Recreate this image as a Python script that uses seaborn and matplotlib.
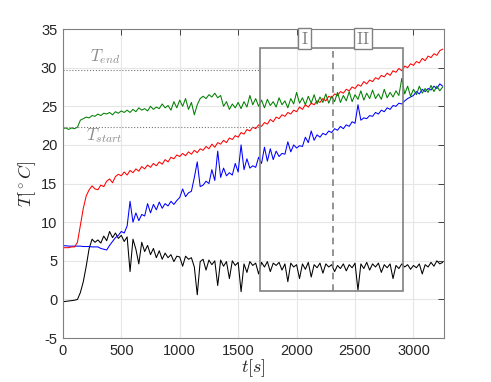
import numpy as np
import matplotlib
matplotlib.use("Agg")
import matplotlib.pyplot as plt
import seaborn as sns
from matplotlib.patches import Rectangle

red = [6.7, 6.7, 6.7, 6.8, 6.8, 7.4, 9.6, 11.8, 13.4, 14.2,
       14.7, 14.3, 14.2, 14.8, 14.6, 15.3, 15.6, 15.1, 15.9, 16.2,
       16.0, 16.5, 16.1, 16.7, 16.4, 16.9, 16.6, 17.2, 16.9, 17.4,
       17.1, 17.6, 17.3, 17.8, 17.5, 18.1, 17.8, 18.4, 18.2, 18.7,
       18.5, 18.9, 18.6, 19.1, 18.8, 19.3, 19.0, 19.5, 19.3, 19.8,
       19.5, 20.1, 19.7, 20.3, 20.1, 20.6, 20.3, 20.9, 20.7, 21.2,
       21.0, 21.6, 21.4, 22.0, 21.8, 22.3, 22.1, 22.6, 22.4, 22.9,
       22.7, 23.3, 23.0, 23.6, 23.4, 23.9, 23.7, 24.2, 24.0, 24.5,
       24.3, 24.9, 24.6, 25.2, 24.9, 25.4, 25.2, 25.7, 25.5, 26.0,
       25.7, 26.3, 26.1, 26.6, 26.4, 26.9, 26.7, 27.2, 27.0, 27.5,
       27.3, 27.8, 27.6, 28.2, 27.9, 28.4, 28.2, 28.7, 28.5, 29.0,
       28.8, 29.3, 29.0, 29.6, 29.4, 29.9, 29.6, 30.2, 30.0, 30.5,
       30.3, 30.8, 30.6, 31.2, 30.9, 31.5, 31.3, 31.8, 31.6, 32.2,
       32.4]

green = [22.1, 22.2, 22.0, 22.2, 22.1, 22.3, 23.2, 23.4, 23.6, 23.5,
         23.8, 23.7, 24.0, 23.8, 24.1, 24.0, 24.2, 23.9, 24.3, 24.1,
         24.4, 24.2, 24.5, 24.2, 24.6, 24.3, 24.8, 24.5, 24.7, 24.4,
         25.0, 24.6, 24.9, 24.7, 25.3, 24.8, 25.1, 24.5, 25.6, 24.8,
         25.8, 25.0, 26.0, 24.6, 25.5, 23.9, 25.2, 26.0, 26.3, 26.0,
         26.5, 26.2, 26.7, 26.1, 26.4, 25.0, 25.6, 24.6, 25.3, 24.8,
         25.5, 24.7, 25.6, 24.9, 26.4, 25.2, 26.0, 25.0, 25.8, 24.8,
         25.9, 25.1, 25.6, 24.9, 26.1, 25.2, 25.7, 24.8, 26.0, 25.3,
         26.8, 25.4, 26.1, 25.2, 26.3, 25.4, 26.5, 25.3, 26.2, 25.5,
         26.6, 25.4, 26.3, 25.6, 26.8, 25.5, 26.4, 25.7, 26.9, 25.6,
         26.5, 25.9, 27.0, 25.8, 26.7, 26.0, 27.1, 26.0, 26.6, 25.9,
         27.2, 26.1, 26.8, 26.2, 27.0, 26.4, 28.6, 26.6, 27.6, 26.3,
         27.2, 26.5, 27.6, 26.7, 27.3, 26.8, 27.7, 26.9, 27.6, 27.0,
         27.5]

blue = [6.95, 6.95, 6.9, 6.9, 6.9, 6.9, 6.9, 6.85, 6.85, 6.85,
        6.8, 6.8, 6.8, 6.6, 6.5, 6.4, 7.0, 7.5, 8.0, 8.3,
        8.8, 8.6, 9.5, 12.7, 10.0, 11.2, 10.2, 11.0, 10.8, 12.4,
        11.2, 12.3, 11.6, 12.6, 11.8, 12.4, 12.1, 12.7, 12.3, 12.8,
        13.2, 14.3, 13.3, 13.8, 14.0, 15.8, 17.8, 14.6, 14.8, 15.3,
        15.0, 16.8, 15.4, 19.2, 15.8, 17.0, 16.0, 16.4, 16.1, 17.6,
        16.5, 20.0, 16.8, 18.2, 17.0, 17.3, 17.1, 18.4, 17.6, 19.7,
        17.9, 19.5, 18.1, 19.2, 18.5, 18.9, 18.8, 20.4, 19.1, 20.0,
        19.6, 19.9, 19.8, 21.0, 20.3, 21.8, 20.6, 21.3, 21.0, 21.5,
        21.3, 21.8, 21.6, 22.1, 21.9, 22.4, 22.1, 22.6, 22.4, 23.0,
        22.8, 25.2, 23.2, 23.5, 23.4, 23.8, 23.7, 24.2, 24.0, 24.5,
        24.3, 24.8, 24.6, 25.1, 25.0, 25.4, 25.3, 25.7, 26.0, 26.2,
        26.4, 26.9, 26.6, 27.2, 26.9, 27.3, 27.1, 27.6, 27.3, 27.9,
        27.6]

black = [-0.3, -0.25, -0.2, -0.15, -0.1, 0.0, 0.9, 2.3, 4.3, 6.6,
         7.8, 7.4, 7.7, 7.3, 8.2, 7.6, 8.8, 8.0, 8.6, 7.9,
         8.3, 7.5, 8.1, 3.6, 7.8, 6.5, 4.6, 7.4, 6.2, 7.0,
         5.8, 6.6, 5.4, 6.3, 5.2, 6.0, 5.4, 5.8, 4.9, 5.6,
         5.5, 4.3, 5.6, 5.2, 5.4, 4.2, 0.6, 4.9, 5.2, 3.8,
         5.1, 4.5, 5.0, 1.8, 5.1, 4.3, 4.9, 2.7, 5.0, 4.4,
         4.8, 1.0, 4.6, 3.5, 4.9, 4.4, 4.7, 3.3, 4.8, 4.2,
         4.9, 3.6, 4.7, 4.4, 4.8, 3.8, 4.6, 2.3, 4.7, 4.2,
         4.5, 2.7, 4.6, 3.9, 4.8, 2.9, 4.5, 4.1, 4.7, 3.4,
         4.6, 4.2, 4.5, 3.6, 4.4, 4.0, 4.6, 3.7, 4.5, 4.1,
         4.7, 1.2, 4.6, 4.0, 4.8, 3.8, 4.6, 4.2, 4.7, 3.5,
         4.5, 4.1, 4.6, 2.7, 4.4, 4.0, 4.6, 4.2, 4.5, 3.9,
         4.4, 4.1, 4.6, 3.3, 4.5, 4.2, 4.8, 4.3, 5.0, 4.6,
         4.8]

t_start = 22.3
t_end = 29.7
box_x = [1690, 2910]
box_y = [1.1, 32.5]
split_x = 2310

sns.set_style("white")
plt.rcParams['font.family'] = ['Liberation Sans', 'DejaVu Sans']
plt.rcParams['mathtext.fontset'] = 'cm'
plt.rcParams['axes.unicode_minus'] = False

fig = plt.figure(figsize=(4.91, 3.82), dpi=100)
ax = fig.add_axes([0.128, 0.115, 0.776, 0.809])

gray = '#808080'
for vals, col in [(black, 'k'), (blue, 'b'), (red, 'r'), (green, '#008000')]:
    tt = np.arange(len(vals)) * 25
    sns.lineplot(x=tt, y=vals, ax=ax, color=col, lw=0.75)

ax.plot([0, box_x[0]], [t_end, t_end], ls=':', color='#777777', lw=0.8)
ax.plot([0, box_x[0]], [t_start, t_start], ls=':', color='#777777', lw=0.8)
ax.text(230, 30.9, r'$T_{end}$', color='#8c8c8c', fontsize=12)
ax.text(200, 20.6, r'$T_{start}$', color='#8c8c8c', fontsize=12)

ax.add_patch(Rectangle((box_x[0], box_y[0]), box_x[1] - box_x[0], box_y[1] - box_y[0],
                       fill=False, ec=gray, lw=1.2, zorder=5))
ax.plot([split_x, split_x], box_y, ls=(0, (4, 3)), color=gray, lw=1.2, zorder=5)
for xl, lab in [(2068, r'$\mathrm{I}$'), (2569, r'$\mathrm{II}$')]:
    ax.text(xl, 33.75, lab, ha='center', va='center', color='#808080', fontsize=12,
            bbox=dict(boxstyle='square,pad=0.15', fc='white', ec=gray, lw=1.0), zorder=6)

ax.set_xlim(0, 3260)
ax.set_ylim(-5, 35)
ax.set_xticks(range(0, 3001, 500))
ax.set_yticks(range(-5, 36, 5))
ax.grid(True, color='#e6e6e6', lw=0.8)
ax.tick_params(direction='in', top=True, right=True, labelsize=10.5,
               colors='#262626', length=4, width=0.6, pad=4)
for s in ax.spines.values():
    s.set_color(gray)
    s.set_linewidth(0.8)
ax.set_xlabel(r'$t[s]$', fontsize=13, labelpad=0)
ax.set_ylabel(r'$T[^\circ C]$', fontsize=13, labelpad=2)

fig.savefig('out.png', dpi=100)
